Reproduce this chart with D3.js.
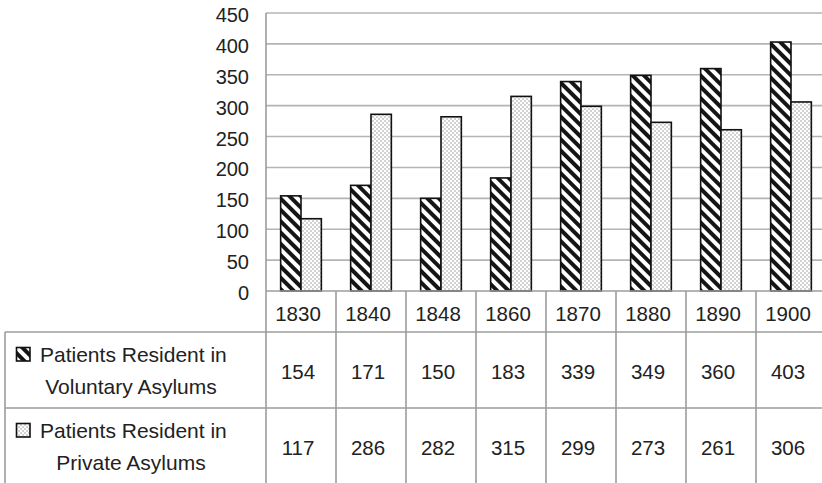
<!DOCTYPE html>
<html>
<head>
<meta charset="utf-8">
<script src="https://cdn.jsdelivr.net/npm/d3@7/dist/d3.min.js"></script>
<style>
  html, body { margin: 0; padding: 0; background: #fff; }
  svg { display: block; font-family: "Liberation Sans", Arial, sans-serif; }
</style>
</head>
<body>
<svg id="chart" width="822" height="483"></svg>
<script>
const years = ["1830", "1840", "1848", "1860", "1870", "1880", "1890", "1900"];
const voluntary = [154, 171, 150, 183, 339, 349, 360, 403];
const privateA = [117, 286, 282, 315, 299, 273, 261, 306];
const yTicks = [0, 50, 100, 150, 200, 250, 300, 350, 400, 450];
const seriesNames = [["Patients Resident in", "Voluntary Asylums"], ["Patients Resident in", "Private Asylums"]];

const W = 822, H = 483;
const svg = d3.select("#chart");
const defs = svg.append("defs");

// hatch pattern
const hatch = defs.append("pattern").attr("id", "hatch")
  .attr("patternUnits", "userSpaceOnUse").attr("width", 8).attr("height", 8)
  .attr("patternTransform", "rotate(-45)");
hatch.append("rect").attr("width", 8).attr("height", 8).attr("fill", "#fff");
hatch.append("rect").attr("width", 4).attr("height", 8).attr("fill", "#151515");

// dots pattern
const dots = defs.append("pattern").attr("id", "dots")
  .attr("patternUnits", "userSpaceOnUse").attr("width", 4).attr("height", 4);
dots.append("rect").attr("width", 4).attr("height", 4).attr("fill", "#fff");
dots.append("circle").attr("cx", 1).attr("cy", 1).attr("r", 0.8).attr("fill", "#9a9a9a");
dots.append("circle").attr("cx", 3).attr("cy", 3).attr("r", 0.8).attr("fill", "#9a9a9a");

const fills = ["url(#hatch)", "url(#dots)"];
const series = [voluntary, privateA];

const plotLeft = 266, plotRight = 826, plotTop = 13, plotBottom = 291;
const x = d3.scaleBand().domain(years).range([plotLeft, plotRight]).padding(0);
const xs = d3.scaleBand().domain([0, 1]).range([0, x.bandwidth()]).paddingInner(0).paddingOuter(0.72);
const y = d3.scaleLinear().domain([0, 450]).range([plotBottom, plotTop]);

const gridColor = "#b4b4b4", lineColor = "#9c9c9c", textColor = "#222";
const fsNum = 20.5, fsLeg = 21, fsY = 20;
const tx = -3;

// gridlines
svg.append("g").selectAll("line").data(yTicks.filter(d => d > 0)).join("line")
  .attr("x1", plotLeft).attr("x2", W)
  .attr("y1", d => y(d)).attr("y2", d => y(d))
  .attr("stroke", gridColor).attr("stroke-width", 1.6);

// y labels
svg.append("g").selectAll("text").data(yTicks).join("text")
  .attr("x", 249).attr("y", d => y(d) + 9)
  .attr("text-anchor", "end").attr("font-size", fsY).attr("fill", textColor)
  .text(d => d);

// bars
series.forEach((vals, si) => {
  svg.append("g").selectAll("rect").data(years).join("rect")
    .attr("x", (d) => x(d) + xs(si))
    .attr("width", xs.bandwidth())
    .attr("y", (d, i) => y(vals[i]))
    .attr("height", (d, i) => y(0) - y(vals[i]))
    .attr("fill", fills[si])
    .attr("stroke", "#111").attr("stroke-width", 1.6);
});

// table lines
const rowTop = [291, 332, 408];
const tbl = svg.append("g").attr("stroke", lineColor).attr("stroke-width", 1.6);
tbl.append("line").attr("x1", plotLeft).attr("x2", plotLeft).attr("y1", plotTop).attr("y2", H);
tbl.append("line").attr("x1", plotLeft).attr("x2", W).attr("y1", plotBottom).attr("y2", plotBottom);
tbl.append("line").attr("x1", 5).attr("x2", W).attr("y1", rowTop[1]).attr("y2", rowTop[1]);
tbl.append("line").attr("x1", 5).attr("x2", W).attr("y1", rowTop[2]).attr("y2", rowTop[2]);
tbl.append("line").attr("x1", 5).attr("x2", 5).attr("y1", rowTop[1]).attr("y2", H);
tbl.selectAll("line.sep").data(years).join("line").attr("class", "sep")
  .attr("x1", d => x(d) + x.bandwidth())
  .attr("x2", d => x(d) + x.bandwidth())
  .attr("y1", plotBottom).attr("y2", H);

// header years
svg.append("g").selectAll("text").data(years).join("text")
  .attr("x", d => x(d) + x.bandwidth() / 2 + tx).attr("y", 321)
  .attr("text-anchor", "middle").attr("font-size", fsNum).attr("fill", textColor)
  .text(d => d);

// data rows
series.forEach((vals, si) => {
  const base = rowTop[si + 1];
  svg.append("g").selectAll("text").data(years).join("text")
    .attr("x", d => x(d) + x.bandwidth() / 2 + tx).attr("y", base + 47)
    .attr("text-anchor", "middle").attr("font-size", fsNum).attr("fill", textColor)
    .text((d, i) => vals[i]);
  svg.append("rect").attr("x", 16.5).attr("y", base + 15.5).attr("width", 13.5).attr("height", 13.5)
    .attr("fill", fills[si]).attr("stroke", "#111").attr("stroke-width", 1.6);
  svg.append("text").attr("x", 40).attr("y", base + 30)
    .attr("font-size", fsLeg).attr("fill", textColor).text(seriesNames[si][0]);
  svg.append("text").attr("x", 131).attr("y", base + 62).attr("text-anchor", "middle")
    .attr("font-size", fsLeg).attr("fill", textColor).text(seriesNames[si][1]);
});
</script>
</body>
</html>
